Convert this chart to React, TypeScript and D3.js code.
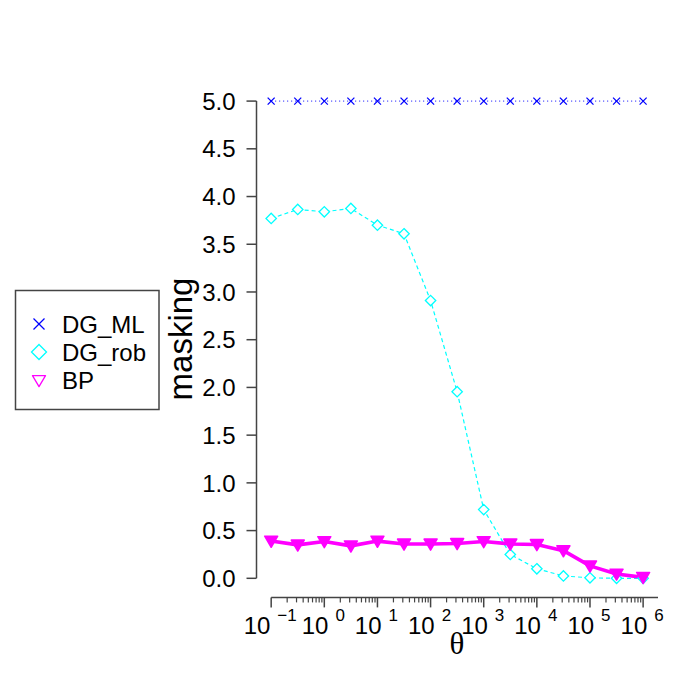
import React from "react";
import * as d3 from "d3";

const xExps = [-1, -0.5, 0, 0.5, 1, 1.5, 2, 2.5, 3, 3.5, 4, 4.5, 5, 5.5, 6];
const dgML = [5, 5, 5, 5, 5, 5, 5, 5, 5, 5, 5, 5, 5, 5, 5];
const dgRob = [3.77, 3.865, 3.84, 3.875, 3.70, 3.61, 2.91, 1.955, 0.72, 0.25, 0.10, 0.025, 0.005, 0.0, 0.0];
const bp = [0.39, 0.35, 0.385, 0.34, 0.39, 0.36, 0.36, 0.365, 0.385, 0.36, 0.355, 0.29, 0.13, 0.045, 0.01];
const yTicks = [0, 0.5, 1, 1.5, 2, 2.5, 3, 3.5, 4, 4.5, 5];
const xMajor = [-1, 0, 1, 2, 3, 4, 5, 6];
const seriesNames = ["DG_ML", "DG_rob", "BP"];
const seriesColors = ["#0000ff", "#00ffff", "#ff00ff"];

const FONT = "'Liberation Sans', Arial, Helvetica, sans-serif";

export default function App() {
  const x = d3.scaleLinear().domain([-1.28, 6.28]).range([256.3, 658]);
  const y = d3.scaleLinear().domain([-0.2, 5.2]).range([597.4, 82]);

  const line = d3
    .line<[number, number]>()
    .x((d) => x(d[0]))
    .y((d) => y(d[1]));

  const ptsML: [number, number][] = xExps.map((e, i) => [e, dgML[i]]);
  const ptsRob: [number, number][] = xExps.map((e, i) => [e, dgRob[i]]);
  const ptsBP: [number, number][] = xExps.map((e, i) => [e, bp[i]]);

  const minor: number[] = [];
  for (let k = -1; k <= 5; k++) {
    for (let m = 2; m <= 9; m++) minor.push(k + Math.log10(m));
  }

  const axisColor = "#444";
  const axisY = 597.4;

  const xMark = (cx: number, cy: number, s: number, c: string, w = 1.2) => (
    <g stroke={c} strokeWidth={w}>
      <line x1={cx - s} y1={cy - s} x2={cx + s} y2={cy + s} />
      <line x1={cx - s} y1={cy + s} x2={cx + s} y2={cy - s} />
    </g>
  );
  const diamond = (cx: number, cy: number, s: number, c: string, w = 1.2) => (
    <path
      d={`M${cx},${cy - s}L${cx + s},${cy}L${cx},${cy + s}L${cx - s},${cy}Z`}
      fill="white"
      stroke={c}
      strokeWidth={w}
    />
  );
  const tri = (cx: number, cy: number, s: number, c: string, filled: boolean, w = 1.2) => (
    <path
      d={`M${cx - s},${cy - s * 0.75}L${cx + s},${cy - s * 0.75}L${cx},${cy + s * 0.95}Z`}
      fill={filled ? c : "white"}
      stroke={c}
      strokeWidth={w}
      strokeLinejoin="round"
    />
  );

  const legendY = [324, 352, 380.5];

  return (
    <svg width={700} height={700} style={{ display: "block", position: "absolute", left: 0, top: 0, background: "white" }} fontFamily={FONT}>
      <rect width={700} height={700} fill="white" />
      {/* y axis */}
      <line x1={256.5} x2={256.5} y1={y(0)} y2={y(5)} stroke={axisColor} strokeWidth={1.5} />
      {yTicks.map((t) => (
        <g key={t}>
          <line x1={246.5} x2={256.5} y1={y(t)} y2={y(t)} stroke={axisColor} strokeWidth={1.5} />
          <text x={235.5} y={y(t)} dy="0.36em" textAnchor="end" fontSize={24} fill="#000">
            {t.toFixed(1)}
          </text>
        </g>
      ))}
      {/* x axis */}
      <line x1={x(-1)} x2={658} y1={axisY} y2={axisY} stroke={axisColor} strokeWidth={1.5} />
      {minor.map((m, i) => (
        <line key={i} x1={x(m)} x2={x(m)} y1={axisY} y2={axisY + 5} stroke={axisColor} strokeWidth={1.2} />
      ))}
      {xMajor.map((e) => (
        <g key={e}>
          <line x1={x(e)} x2={x(e)} y1={axisY} y2={axisY + 10} stroke={axisColor} strokeWidth={1.5} />
          <text x={x(e) - 1} y={634} textAnchor="middle" fontSize={24} fill="#000">
            <tspan>10</tspan>
            <tspan dx={7} dy={-13} fontSize={17}>
              {e < 0 ? "\u2212" + Math.abs(e) : String(e)}
            </tspan>
          </text>
        </g>
      ))}
      {/* axis titles */}
      <text x={457} y={654} textAnchor="middle" fontSize={31} fontFamily="'Liberation Serif', 'DejaVu Serif', serif">
        θ
      </text>
      <text transform="translate(192,339) rotate(-90)" textAnchor="middle" fontSize={33}>
        masking
      </text>
      {/* series */}
      <path d={line(ptsML) || ""} fill="none" stroke={seriesColors[0]} strokeWidth={1} strokeDasharray="1,3" />
      <path d={line(ptsRob) || ""} fill="none" stroke={seriesColors[1]} strokeWidth={1.2} strokeDasharray="4,3" />
      <path d={line(ptsBP) || ""} fill="none" stroke={seriesColors[2]} strokeWidth={3.6} strokeLinejoin="round" />
      {ptsML.map((p, i) => (
        <g key={"m" + i}>{xMark(x(p[0]), y(p[1]), 3.5, seriesColors[0], 1.3)}</g>
      ))}
      {ptsRob.map((p, i) => (
        <g key={"r" + i}>{diamond(x(p[0]), y(p[1]), 5.2, seriesColors[1], 1.3)}</g>
      ))}
      {ptsBP.map((p, i) => (
        <g key={"b" + i}>{tri(x(p[0]), y(p[1]), 6.5, seriesColors[2], true, 1.5)}</g>
      ))}
      {/* legend */}
      <rect x={15.5} y={290.5} width={143.5} height={119} fill="white" stroke={axisColor} strokeWidth={1.5} />
      {xMark(39, legendY[0], 5.5, seriesColors[0], 1.2)}
      {diamond(39, legendY[1], 7.5, seriesColors[1], 1.3)}
      {tri(39, legendY[2], 6.5, seriesColors[2], false, 1.3)}
      {seriesNames.map((n, i) => (
        <text key={n} x={62} y={legendY[i]} dy="0.36em" fontSize={24} fill="#000">
          {n}
        </text>
      ))}
    </svg>
  );
}
